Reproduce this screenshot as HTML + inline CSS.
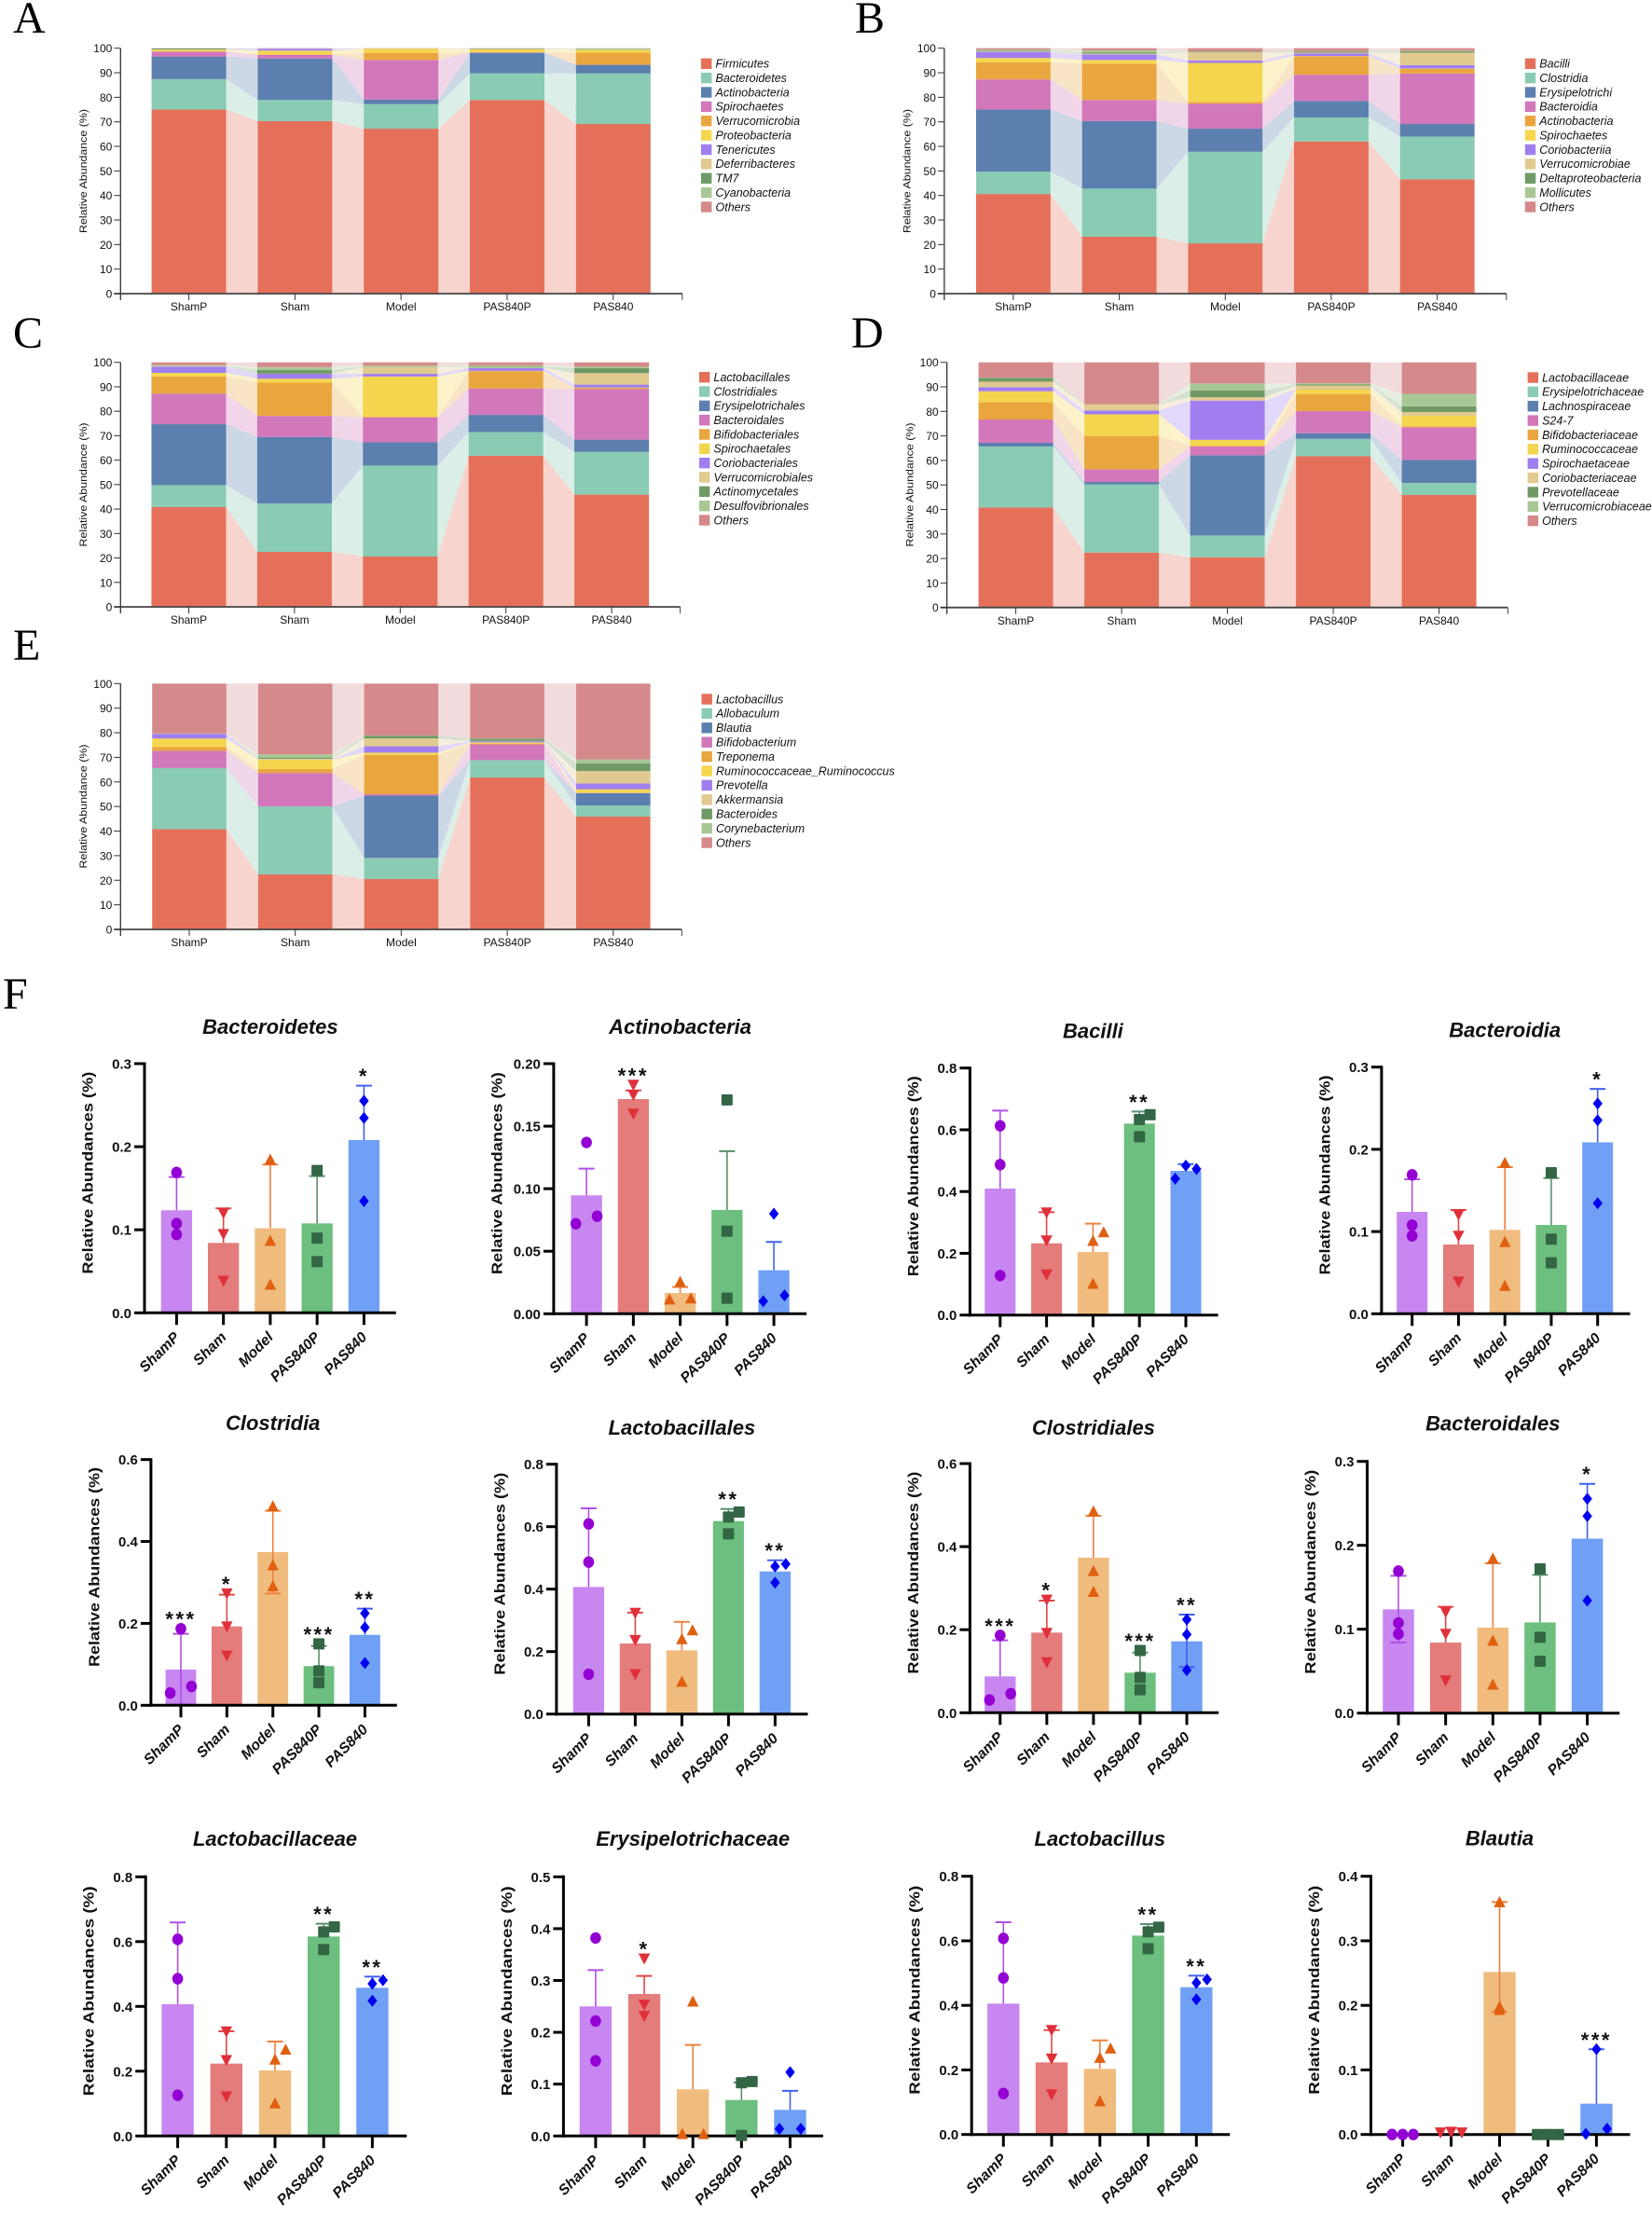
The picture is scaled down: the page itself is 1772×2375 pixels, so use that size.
<!DOCTYPE html>
<html lang="en">
<head>
<meta charset="utf-8">
<title>Relative abundance charts</title>
<style>
html,body{margin:0;padding:0;background:#fff;}
svg{display:block;}
text{font-family:"Liberation Sans",sans-serif;fill:#111;}
.letter{font-family:"Liberation Serif",serif;font-size:48px;fill:#000;}
</style>
</head>
<body>
<svg id="figure" xmlns="http://www.w3.org/2000/svg" width="1772" height="2375" viewBox="0 0 1772 2375">
<rect x="0" y="0" width="1772" height="2375" fill="#ffffff"/>
<text class="letter" x="14" y="35">A</text>
<text class="letter" x="917" y="35">B</text>
<text class="letter" x="14" y="373">C</text>
<text class="letter" x="913" y="373">D</text>
<text class="letter" x="14" y="708">E</text>
<text class="letter" x="3" y="1082">F</text>
</svg>
<script>
// ---------- shared categories ----------
const groups = ['ShamP', 'Sham', 'Model', 'PAS840P', 'PAS840'];
const stackTicks = ['0', '10', '20', '30', '40', '50', '60', '70', '80', '90', '100'];
const stackColors = ['#E5705A', '#89CBB3', '#5B7FAE', '#D277BA', '#EAA63E', '#F4D64E', '#A07EEF', '#E1CA90', '#6F9A65', '#A9C795', '#D5898A'];

// ---------- stacked panels: one row per group, one entry per taxon ----------
const phylumTaxa = ['Firmicutes', 'Bacteroidetes', 'Actinobacteria', 'Spirochaetes', 'Verrucomicrobia', 'Proteobacteria', 'Tenericutes', 'Deferribacteres', 'TM7', 'Cyanobacteria', 'Others'];
const phylumValues = [
  [75, 12.4, 9.2, 2, 0.1, 0.7, 0.05, 0.05, 0.4, 0.05, 0.05],
  [70.3, 8.6, 16.9, 1.5, 0.2, 1.5, 0.8, 0.1, 0.05, 0, 0.05],
  [67.2, 10, 1.9, 16.1, 2.9, 1.7, 0.05, 0.05, 0.05, 0, 0.05],
  [78.9, 10.9, 8.3, 0.2, 0.05, 1.2, 0.05, 0.05, 0.2, 0.05, 0.1],
  [69.1, 20.6, 3.5, 0.05, 4.9, 1.2, 0.05, 0.05, 0.05, 0.5, 0]
];
const classTaxa = ['Bacilli', 'Clostridia', 'Erysipelotrichi', 'Bacteroidia', 'Actinobacteria', 'Spirochaetes', 'Coriobacteriia', 'Verrucomicrobiae', 'Deltaproteobacteria', 'Mollicutes', 'Others'];
const classValues = [
  [40.6, 9.1, 25.3, 12.3, 7, 1.7, 2.5, 0.2, 0.3, 0.4, 0.6],
  [23.2, 19.6, 27.5, 8.6, 14.8, 1.5, 2.3, 0.3, 0.5, 0.8, 0.9],
  [20.5, 37.3, 9.4, 10.2, 0.7, 15.9, 1, 3.3, 0.3, 0.1, 1.3],
  [62, 9.8, 6.7, 10.7, 7.5, 0.1, 1.1, 0.3, 0.5, 0.1, 1.2],
  [46.6, 17.4, 5.1, 20.6, 1.9, 0.1, 1.4, 5.1, 0.6, 0.2, 1]
];
const orderTaxa = ['Lactobacillales', 'Clostridiales', 'Erysipelotrichales', 'Bacteroidales', 'Bifidobacteriales', 'Spirochaetales', 'Coriobacteriales', 'Verrucomicrobiales', 'Actinomycetales', 'Desulfovibrionales', 'Others'];
const orderValues = [
  [40.8, 9, 24.9, 12.5, 7, 1.5, 2.6, 0.2, 0.1, 0.3, 1.1],
  [22.5, 19.8, 27.2, 8.6, 13.6, 1.6, 2, 0.05, 1.5, 1.2, 1.95],
  [20.6, 37.2, 9.5, 10.2, 0.3, 16.4, 1.1, 2.8, 0.1, 0.5, 1.3],
  [61.8, 9.7, 7, 10.8, 7.1, 0.1, 1.2, 0.2, 0.3, 0.6, 1.2],
  [45.9, 17.5, 5, 20.7, 0.5, 0.1, 1.2, 4.7, 2, 0.6, 1.8]
];
const familyTaxa = ['Lactobacillaceae', 'Erysipelotrichaceae', 'Lachnospiraceae', 'S24-7', 'Bifidobacteriaceae', 'Ruminococcaceae', 'Spirochaetaceae', 'Coriobacteriaceae', 'Prevotellaceae', 'Verrucomicrobiaceae', 'Others'];
const familyValues = [
  [40.8, 24.9, 1.5, 9.5, 7, 4.5, 1.7, 2.2, 1.6, 0.1, 6.2],
  [22.4, 27.8, 1, 5.2, 13.6, 8.8, 1.6, 2.4, 0.05, 0.05, 17.1],
  [20.5, 8.9, 32.7, 3.6, 0.3, 2.4, 16, 1.4, 2.8, 2.8, 8.6],
  [61.7, 7.1, 2.3, 9, 7, 1.9, 0.05, 1.5, 0.4, 0.5, 8.55],
  [45.9, 4.9, 9.4, 13.3, 0.4, 4.3, 0.05, 1.5, 2.3, 5.1, 12.85]
];
const genusTaxa = ['Lactobacillus', 'Allobaculum', 'Blautia', 'Bifidobacterium', 'Treponema', 'Ruminococcaceae_Ruminococcus', 'Prevotella', 'Akkermansia', 'Bacteroides', 'Corynebacterium', 'Others'];
const genusValues = [
  [40.8, 24.8, 0.05, 7, 1.5, 3.5, 1.9, 0.05, 0.05, 0.05, 20.3],
  [22.4, 27.6, 0.05, 13.6, 1.6, 3.8, 0.05, 0.3, 0.5, 1.3, 28.8],
  [20.5, 8.6, 25.3, 0.6, 16, 0.9, 2.6, 3.2, 1.1, 0.1, 21.1],
  [61.8, 7, 0.05, 6.4, 0.3, 0.5, 0.5, 0.1, 0.9, 0.1, 22.35],
  [45.9, 4.5, 5, 0.1, 0.1, 1.4, 2.4, 5, 3.2, 1.6, 30.8]
];

// ---------- bar panels ----------
const barColors = ['#C886F0', '#E47C7C', '#F0BC7E', '#6CBF7E', '#70A0F5'];
const errColors = ['#B050E8', '#E04848', '#EE8040', '#5A9070', '#4060F0'];
const markColors = ['#9400D3', '#E0303A', '#E06010', '#336644', '#0000F0'];
const markShapes = ['circle', 'down', 'up', 'square', 'diamond'];

const bacteroidetesTicks = ['0.0', '0.1', '0.2', '0.3'];
const bacteroidetesMeans = [0.1235, 0.0842, 0.1018, 0.1077, 0.208];
const bacteroidetesErrors = [0.1635, 0.1257, 0.1785, 0.1646, 0.2735];
const bacteroidetesPoints = [[0.169, 0.1074, 0.0943], [0.12, 0.0947, 0.0385], [0.1845, 0.0868, 0.034], [0.1714, 0.09, 0.0617], [0.2552, 0.2346, 0.1344]];
const bacteroidetesStars = ['', '', '', '', '*'];

const actinobacteriaTicks = ['0.00', '0.05', '0.10', '0.15', '0.20'];
const actinobacteriaMeans = [0.0947, 0.1717, 0.0166, 0.083, 0.0348];
const actinobacteriaErrors = [0.116, 0.1786, 0.0214, 0.13, 0.0574];
const actinobacteriaPoints = [[0.137, 0.072, 0.078], [0.183, 0.175, 0.16], [0.0256, 0.0115, 0.0124], [0.171, 0.066, 0.0124], [0.08, 0.01, 0.0147]];
const actinobacteriaStars = ['', '***', '', '', ''];

const bacilliTicks = ['0.0', '0.2', '0.4', '0.6', '0.8'];
const bacilliMeans = [0.4096, 0.2325, 0.2043, 0.62, 0.467];
const bacilliErrors = [0.662, 0.333, 0.296, 0.659, 0.489];
const bacilliPoints = [[0.613, 0.487, 0.128], [0.332, 0.2415, 0.131], [0.2687, 0.2405, 0.1016], [0.649, 0.633, 0.5776], [0.4418, 0.484, 0.473]];
const bacilliStars = ['', '', '', '**', ''];

const bacteroidiaTicks = ['0.0', '0.1', '0.2', '0.3'];
const bacteroidiaMeans = [0.1239, 0.0842, 0.102, 0.108, 0.2085];
const bacteroidiaErrors = [0.1636, 0.1262, 0.1783, 0.165, 0.2735];
const bacteroidiaPoints = [[0.169, 0.1077, 0.0948], [0.1205, 0.0948, 0.039], [0.1836, 0.0873, 0.034], [0.1715, 0.0907, 0.062], [0.2558, 0.2354, 0.1345]];
const bacteroidiaStars = ['', '', '', '', '*'];

const clostridiaTicks = ['0.0', '0.2', '0.4', '0.6'];
const clostridiaMeans = [0.0872, 0.1927, 0.374, 0.0956, 0.172];
const clostridiaErrors = [0.1745, 0.27, 0.475, 0.145, 0.236];
const clostridiaLows = [0.002, null, 0.273, null, null];
const clostridiaPoints = [[0.187, 0.03, 0.046], [0.273, 0.192, 0.121], [0.486, 0.342, 0.291], [0.15, 0.084, 0.055], [0.2246, 0.19, 0.103]];
const clostridiaStars = ['***', '*', '', '***', '**'];

const lactobacillalesTicks = ['0.0', '0.2', '0.4', '0.6', '0.8'];
const lactobacillalesMeans = [0.407, 0.2259, 0.204, 0.618, 0.4567];
const lactobacillalesErrors = [0.6587, 0.325, 0.2955, 0.6567, 0.4925];
const lactobacillalesPoints = [[0.609, 0.4866, 0.1274], [0.324, 0.2368, 0.1274], [0.2687, 0.24, 0.1035], [0.647, 0.631, 0.577], [0.4806, 0.4726, 0.421]];
const lactobacillalesStars = ['', '', '', '**', '**'];

const clostridialesTicks = ['0.0', '0.2', '0.4', '0.6'];
const clostridialesMeans = [0.0875, 0.193, 0.3733, 0.0965, 0.172];
const clostridialesErrors = [0.1743, 0.27, 0.4743, 0.145, 0.2364];
const clostridialesLows = [null, null, null, null, 0.11];
const clostridialesPoints = [[0.1863, 0.0307, 0.046], [0.272, 0.192, 0.1215], [0.485, 0.3415, 0.2914], [0.15, 0.085, 0.0554], [0.2244, 0.1885, 0.1025]];
const clostridialesStars = ['***', '*', '', '***', '**'];

const bacteroidalesTicks = ['0.0', '0.1', '0.2', '0.3'];
const bacteroidalesMeans = [0.1237, 0.0841, 0.1019, 0.1081, 0.208];
const bacteroidalesErrors = [0.1637, 0.1267, 0.1785, 0.1648, 0.2733];
const bacteroidalesLows = [0.0841, null, null, null, null];
const bacteroidalesPoints = [[0.1693, 0.1074, 0.0944], [0.1204, 0.0944, 0.0389], [0.1844, 0.0863, 0.0341], [0.1719, 0.0904, 0.0619], [0.2556, 0.2348, 0.1341]];
const bacteroidalesStars = ['', '', '', '', '*'];

const lactobacillaceaeTicks = ['0.0', '0.2', '0.4', '0.6', '0.8'];
const lactobacillaceaeMeans = [0.4067, 0.2235, 0.2024, 0.6158, 0.4576];
const lactobacillaceaeErrors = [0.659, 0.3233, 0.2916, 0.6552, 0.492];
const lactobacillaceaePoints = [[0.607, 0.4854, 0.1257], [0.3223, 0.234, 0.1218], [0.2667, 0.236, 0.1007], [0.6456, 0.63, 0.5755], [0.4806, 0.47, 0.4173]];
const lactobacillaceaeStars = ['', '', '', '**', '**'];

const erysipelotrichaceaeTicks = ['0.0', '0.1', '0.2', '0.3', '0.4', '0.5'];
const erysipelotrichaceaeMeans = [0.25, 0.274, 0.09, 0.0695, 0.0504];
const erysipelotrichaceaeErrors = [0.32, 0.3088, 0.1757, 0.103, 0.087];
const erysipelotrichaceaePoints = [[0.382, 0.2218, 0.145], [0.3423, 0.253, 0.2314], [0.2596, 0.004, 0.004], [0.1025, 0.105, 0.001], [0.123, 0.0138, 0.0138]];
const erysipelotrichaceaeStars = ['', '*', '', '', ''];

const lactobacillusTicks = ['0.0', '0.2', '0.4', '0.6', '0.8'];
const lactobacillusMeans = [0.4053, 0.2233, 0.2031, 0.6161, 0.4563];
const lactobacillusErrors = [0.6575, 0.3235, 0.2917, 0.6517, 0.492];
const lactobacillusPoints = [[0.6075, 0.4852, 0.1271], [0.3235, 0.2349, 0.1242], [0.2667, 0.2378, 0.103], [0.642, 0.6277, 0.5757], [0.4804, 0.47, 0.4188]];
const lactobacillusStars = ['', '', '', '**', '**'];

const blautiaTicks = ['0.0', '0.1', '0.2', '0.3', '0.4'];
const blautiaMeans = [0.0005, 0.0005, 0.2517, 0.001, 0.0477];
const blautiaErrors = [0.0005, 0.0005, 0.36, 0.001, 0.132];
const blautiaLows = [null, null, 0.19, null, null];
const blautiaPoints = [[0, 0, 0], [0.003, 0.004, 0.003], [0.36, 0.198, 0.193], [0, 0, 0], [0.132, 0.001, 0.009]];
const blautiaStars = ['', '', '', '', '***'];

// sideways placement of overlapping points (slots, not data)
const noSpread = [[0, 0, 0], [0, 0, 0], [0, 0, 0], [0, 0, 0], [0, 0, 0]];
const actinoSpread = [[0, -1, 1], [0, 0, 0], [0, -1, 1], [0, 0, 0], [0, -1, 1]];
const bacilliSpread = [[0, 0, 0], [0, 0, 0], [1, 0, 0], [1, 0, 0], [-1, 0, 1]];
const clostridiaSpread = [[0, -1, 1], [0, 0, 0], [0, 0, 0], [0, 0, 0], [0, 0, 0]];
const lactoSpread = [[0, 0, 0], [0, 0, 0], [1, 0, 0], [1, 0, 0], [1, 0, 0]];
const erysSpread = [[0, 0, 0], [0, 0, 0], [0, -1, 1], [0, 1, 0], [0, -1, 1]];
const blautiaSpread = [[-1, 0, 1], [-1, 0, 1], [0, 0, 0], [-1, 0, 1], [0, -1, 1]];

// ---------- layouts ----------
const stackedPanels = [
  {key: 'a', taxa: phylumTaxa, values: phylumValues, left: 129.3, right: 731.8, top: 51.7, base: 315, first: 202.6, step: 113.8, barW: 80, titleX: 88.9, titleY: 183.5, legX: 752, legY: 68.3, legGap: 15.37, labelY: 333},
  {key: 'b', taxa: classTaxa, values: classValues, left: 1012.9, right: 1615.8, top: 51.7, base: 315, first: 1086.9, step: 113.7, barW: 79.9, titleX: 972.6, titleY: 183.5, legX: 1635.8, legY: 68.3, legGap: 15.37, labelY: 333},
  {key: 'c', taxa: orderTaxa, values: orderValues, left: 129.3, right: 729.6, top: 388.7, base: 651, first: 202.5, step: 113.4, barW: 80.1, titleX: 88.9, titleY: 520, legX: 750, legY: 404.7, legGap: 15.33, labelY: 669},
  {key: 'd', taxa: familyTaxa, values: familyValues, left: 1015.7, right: 1617.4, top: 388.7, base: 651.7, first: 1089.6, step: 113.5, barW: 80, titleX: 975.6, titleY: 520, legX: 1638.6, legY: 405, legGap: 15.37, labelY: 670},
  {key: 'e', taxa: genusTaxa, values: genusValues, left: 129.3, right: 731.3, top: 733.3, base: 997, first: 203, step: 113.7, barW: 79.6, titleX: 89.2, titleY: 865, legX: 752.5, legY: 750, legGap: 15.4, labelY: 1015}
];
const barPanels = [
  {title: 'Bacteroidetes', ticks: bacteroidetesTicks, means: bacteroidetesMeans, errs: bacteroidetesErrors, lows: null, pts: bacteroidetesPoints, stars: bacteroidetesStars, spread: noSpread, axis: 155, base: 1408.3, top: 1141, end: 424.8, first: 189.4, step: 50.25, barW: 33.3, titleY: 1101.7},
  {title: 'Actinobacteria', ticks: actinobacteriaTicks, means: actinobacteriaMeans, errs: actinobacteriaErrors, lows: null, pts: actinobacteriaPoints, stars: actinobacteriaStars, spread: actinoSpread, axis: 593.9, base: 1409.3, top: 1141, end: 865.1, first: 629.1, step: 50.25, barW: 33.3, titleY: 1101.7},
  {title: 'Bacilli', ticks: bacilliTicks, means: bacilliMeans, errs: bacilliErrors, lows: null, pts: bacilliPoints, stars: bacilliStars, spread: bacilliSpread, axis: 1040.4, base: 1410.7, top: 1145.7, end: 1306.6, first: 1072.8, step: 49.8, barW: 33, titleY: 1106},
  {title: 'Bacteroidia', ticks: bacteroidiaTicks, means: bacteroidiaMeans, errs: bacteroidiaErrors, lows: null, pts: bacteroidiaPoints, stars: bacteroidiaStars, spread: noSpread, axis: 1481.9, base: 1409.3, top: 1144.7, end: 1748.5, first: 1514.7, step: 49.75, barW: 33, titleY: 1105},
  {title: 'Clostridia', ticks: clostridiaTicks, means: clostridiaMeans, errs: clostridiaErrors, lows: clostridiaLows, pts: clostridiaPoints, stars: clostridiaStars, spread: clostridiaSpread, axis: 161.9, base: 1829.3, top: 1565.7, end: 425.8, first: 194, step: 49.35, barW: 32.8, titleY: 1526.7},
  {title: 'Lactobacillales', ticks: lactobacillalesTicks, means: lactobacillalesMeans, errs: lactobacillalesErrors, lows: null, pts: lactobacillalesPoints, stars: lactobacillalesStars, spread: lactoSpread, axis: 596.9, base: 1838.7, top: 1570.7, end: 866.5, first: 631.4, step: 50, barW: 33.3, titleY: 1531.7},
  {title: 'Clostridiales', ticks: clostridialesTicks, means: clostridialesMeans, errs: clostridialesErrors, lows: clostridialesLows, pts: clostridialesPoints, stars: clostridialesStars, spread: clostridiaSpread, axis: 1040.4, base: 1837.3, top: 1570, end: 1307.2, first: 1072.8, step: 50.05, barW: 33.3, titleY: 1531.7},
  {title: 'Bacteroidales', ticks: bacteroidalesTicks, means: bacteroidalesMeans, errs: bacteroidalesErrors, lows: bacteroidalesLows, pts: bacteroidalesPoints, stars: bacteroidalesStars, spread: noSpread, axis: 1466.5, base: 1837.7, top: 1567.7, end: 1737.2, first: 1500, step: 50.65, barW: 33.5, titleY: 1527},
  {title: 'Lactobacillaceae', ticks: lactobacillaceaeTicks, means: lactobacillaceaeMeans, errs: lactobacillaceaeErrors, lows: null, pts: lactobacillaceaePoints, stars: lactobacillaceaeStars, spread: lactoSpread, axis: 156.2, base: 2291.3, top: 2013.3, end: 436.3, first: 190.6, step: 52.2, barW: 34.4, titleY: 1972.7},
  {title: 'Erysipelotrichaceae', ticks: erysipelotrichaceaeTicks, means: erysipelotrichaceaeMeans, errs: erysipelotrichaceaeErrors, lows: null, pts: erysipelotrichaceaePoints, stars: erysipelotrichaceaeStars, spread: erysSpread, axis: 604.4, base: 2291.3, top: 2013.3, end: 882.9, first: 638.9, step: 52.15, barW: 34.4, titleY: 1972.7},
  {title: 'Lactobacillus', ticks: lactobacillusTicks, means: lactobacillusMeans, errs: lactobacillusErrors, lows: null, pts: lactobacillusPoints, stars: lactobacillusStars, spread: lactoSpread, axis: 1042.2, base: 2289.7, top: 2012.7, end: 1319.2, first: 1076.3, step: 51.75, barW: 34.4, titleY: 1972.7},
  {title: 'Blautia', ticks: blautiaTicks, means: blautiaMeans, errs: blautiaErrors, lows: blautiaLows, pts: blautiaPoints, stars: blautiaStars, spread: blautiaSpread, axis: 1470.5, base: 2289.7, top: 2012.7, end: 1748.5, first: 1504.6, step: 51.95, barW: 34.4, titleY: 1972}
];

const svg = document.getElementById('figure');
const NS = 'http://www.w3.org/2000/svg';
function make(parent, tag, attrs, txt) {
  const el = document.createElementNS(NS, tag);
  for (const k in attrs) el.setAttribute(k, attrs[k]);
  if (txt !== undefined) el.textContent = txt;
  parent.appendChild(el);
  return el;
}
function slug(s) { return String(s).toLowerCase().replace(/[^a-z0-9]+/g, '-'); }

// ---------- stacked chart drawing ----------
function drawStacked(p) {
  const g = make(svg, 'g', {});
  
  
  const yOf = v => p.base - (v / 100) * (p.base - p.top);
  const xOf = i => p.first + i * p.step;
  const stacks = p.values.map(row => { let c = 0; return row.map(v => { const a = c; c += v; return [a, c]; }); });

  // connecting ribbons
  for (let i = 0; i < stacks.length - 1; i++) {
    p.taxa.forEach((t, s) => {
      const x0 = xOf(i) + p.barW / 2, x1 = xOf(i + 1) - p.barW / 2;
      const a = stacks[i][s], b = stacks[i + 1][s];
      const pts = [[x0, yOf(a[0])], [x0, yOf(a[1])], [x1, yOf(b[1])], [x1, yOf(b[0])]].map(q => q[0].toFixed(1) + ',' + q[1].toFixed(1)).join(' ');
      const rib = make(g, 'polygon', {points: pts, fill: stackColors[s], 'fill-opacity': 0.3});
      
      
    });
  }
  // stacked bars
  stacks.forEach((st, i) => {
    st.forEach((seg, s) => {
      const h = yOf(seg[0]) - yOf(seg[1]);
      const r = make(g, 'rect', {x: xOf(i) - p.barW / 2, y: yOf(seg[1]), width: p.barW, height: Math.max(h, 0), fill: stackColors[s]});
      
      
    });
  });
  // axes
  const yAxis = make(g, 'line', {x1: p.left, x2: p.left, y1: p.top, y2: p.base + 7, stroke: '#333', 'stroke-width': 1.3});
  
  
  const xAxis = make(g, 'line', {x1: p.left - 7, x2: p.right, y1: p.base, y2: p.base, stroke: '#444', 'stroke-width': 1.8});
  
  
  const rightTick = make(g, 'line', {x1: p.right, x2: p.right, y1: p.base, y2: p.base + 7, stroke: '#444', 'stroke-width': 1});
  
  
  stackTicks.forEach(t => {
    const y = yOf(parseFloat(t));
    const tk = make(g, 'line', {x1: p.left - 7, x2: p.left, y1: y, y2: y, stroke: '#333', 'stroke-width': 1});
    
    
    const lb = make(g, 'text', {x: p.left - 9, y: y + 4.5, 'text-anchor': 'end', 'font-size': 12}, t);
    
    
  });
  groups.forEach((name, i) => {
    const tk = make(g, 'line', {x1: xOf(i), x2: xOf(i), y1: p.base, y2: p.base + 7, stroke: '#333', 'stroke-width': 1});
    
    
    const lb = make(g, 'text', {x: xOf(i), y: p.labelY, 'text-anchor': 'middle', 'font-size': 12}, name);
    
    
  });
  const yt = make(g, 'text', {x: p.titleX, y: p.titleY, transform: 'rotate(-90 ' + p.titleX + ' ' + p.titleY + ')', 'text-anchor': 'middle', 'font-size': 11, textLength: 133, lengthAdjust: 'spacingAndGlyphs', dy: 4, fill: '#222'}, 'Relative Abundance (%)');
  
  
  // legend
  p.taxa.forEach((t, s) => {
    const y = p.legY + s * p.legGap;
    const sw = make(g, 'rect', {x: p.legX, y: y - 5.7, width: 11.4, height: 11.4, fill: stackColors[s]});
    
    
    const lb = make(g, 'text', {x: p.legX + 15.5, y: y + 4.3, 'font-size': 12.5, 'font-style': 'italic'}, t);
    
    
  });
}

// ---------- bar chart drawing ----------
function marker(parent, shape, x, y, color) {
  if (shape === 'circle') return make(parent, 'ellipse', {cx: x, cy: y, rx: 5.8, ry: 6.2, fill: color});
  if (shape === 'square') return make(parent, 'rect', {x: x - 6, y: y - 6, width: 12, height: 12, rx: 1, fill: color});
  const d = shape === 'up' ? [[x, y - 6.5], [x + 6.2, y + 5.5], [x - 6.2, y + 5.5]]
    : shape === 'down' ? [[x, y + 6.5], [x + 6.2, y - 5.5], [x - 6.2, y - 5.5]]
    : [[x, y - 6.5], [x + 5.2, y], [x, y + 6.5], [x - 5.2, y]];
  return make(parent, 'polygon', {points: d.map(q => q[0].toFixed(1) + ',' + q[1].toFixed(1)).join(' '), fill: color});
}
function drawBars(p) {
  const g = make(svg, 'g', {});
  
  
  const tickVals = p.ticks.map(parseFloat);
  const yMax = tickVals[tickVals.length - 1];
  const yOf = v => p.base - (v / yMax) * (p.base - p.top);
  const xOf = i => p.first + i * p.step;

  const title = make(g, 'text', {x: xOf(2), y: p.titleY + 7.5, 'text-anchor': 'middle', 'font-size': 22, 'font-weight': 'bold', 'font-style': 'italic', fill: '#111'}, p.title);
  
  

  groups.forEach((name, i) => {
    const bar = make(g, 'rect', {x: xOf(i) - p.barW / 2, y: yOf(p.means[i]), width: p.barW, height: p.base - yOf(p.means[i]), fill: barColors[i]});
    
    
  });
  groups.forEach((name, i) => {
    const hi = yOf(p.errs[i]);
    const low = p.lows && p.lows[i] !== null ? yOf(p.lows[i]) : yOf(p.means[i]);
    const stem = make(g, 'line', {x1: xOf(i), x2: xOf(i), y1: hi, y2: low, stroke: errColors[i], 'stroke-width': 1.6});
    
    
    const cap = make(g, 'line', {x1: xOf(i) - 8.5, x2: xOf(i) + 8.5, y1: hi, y2: hi, stroke: errColors[i], 'stroke-width': 2});
    
    
    if (p.lows && p.lows[i] !== null) {
      const capLow = make(g, 'line', {x1: xOf(i) - 8.5, x2: xOf(i) + 8.5, y1: low, y2: low, stroke: errColors[i], 'stroke-width': 2});
      
      
    }
  });
  // axes
  const yAxis = make(g, 'line', {x1: p.axis, x2: p.axis, y1: p.top - 1.5, y2: p.base + 1.5, stroke: '#000', 'stroke-width': 3});
  
  
  const xAxis = make(g, 'line', {x1: p.axis - 1.5, x2: p.end, y1: p.base, y2: p.base, stroke: '#000', 'stroke-width': 3});
  
  
  p.ticks.forEach((t, k) => {
    const y = yOf(tickVals[k]);
    const tk = make(g, 'line', {x1: p.axis - 11, x2: p.axis, y1: y, y2: y, stroke: '#000', 'stroke-width': 3});
    
    
    const lb = make(g, 'text', {x: p.axis - 14, y: y + 5.5, 'text-anchor': 'end', 'font-size': 15, 'font-weight': 'bold', fill: '#111'}, t);
    
    
  });
  groups.forEach((name, i) => {
    const tk = make(g, 'line', {x1: xOf(i), x2: xOf(i), y1: p.base, y2: p.base + 13, stroke: '#000', 'stroke-width': 3});
    
    
    const ax = xOf(i) + 4, ay = p.base + 27;
    const lb = make(g, 'text', {x: ax, y: ay, transform: 'rotate(-45 ' + ax + ' ' + ay + ')', 'text-anchor': 'end', 'font-size': 15.7, 'font-weight': 'bold', 'font-style': 'italic', fill: '#222'}, name);
    
    
  });
  const H = p.base - p.top;
  const tx = p.axis - 55.5, ty = (p.base + p.top) / 2 - 16.5;
  const yt = make(g, 'text', {x: tx, y: ty, transform: 'rotate(-90 ' + tx + ' ' + ty + ')', 'text-anchor': 'middle', 'font-size': 15.5, 'font-weight': 'bold', textLength: (H * 0.81).toFixed(0), lengthAdjust: 'spacingAndGlyphs', fill: '#222'}, 'Relative Abundances (%)');
  
  
  // points and stars
  p.pts.forEach((arr, i) => {
    arr.forEach((v, k) => {
      const m = marker(g, markShapes[i], xOf(i) + p.spread[i][k] * 11.4, yOf(v), markColors[i]);
      
      
    });
    if (p.stars[i]) {
      const topV = Math.max(p.errs[i], arr[0], arr[1], arr[2]);
      const s = make(g, 'text', {x: xOf(i), y: yOf(topV) - 15 + 12.5, 'text-anchor': 'middle', 'font-size': 22, 'font-weight': 'bold', 'letter-spacing': 2.5, fill: '#000'}, p.stars[i]);
      
      
    }
  });
}

stackedPanels.forEach(drawStacked);
barPanels.forEach(drawBars);
</script>
</body>
</html>
